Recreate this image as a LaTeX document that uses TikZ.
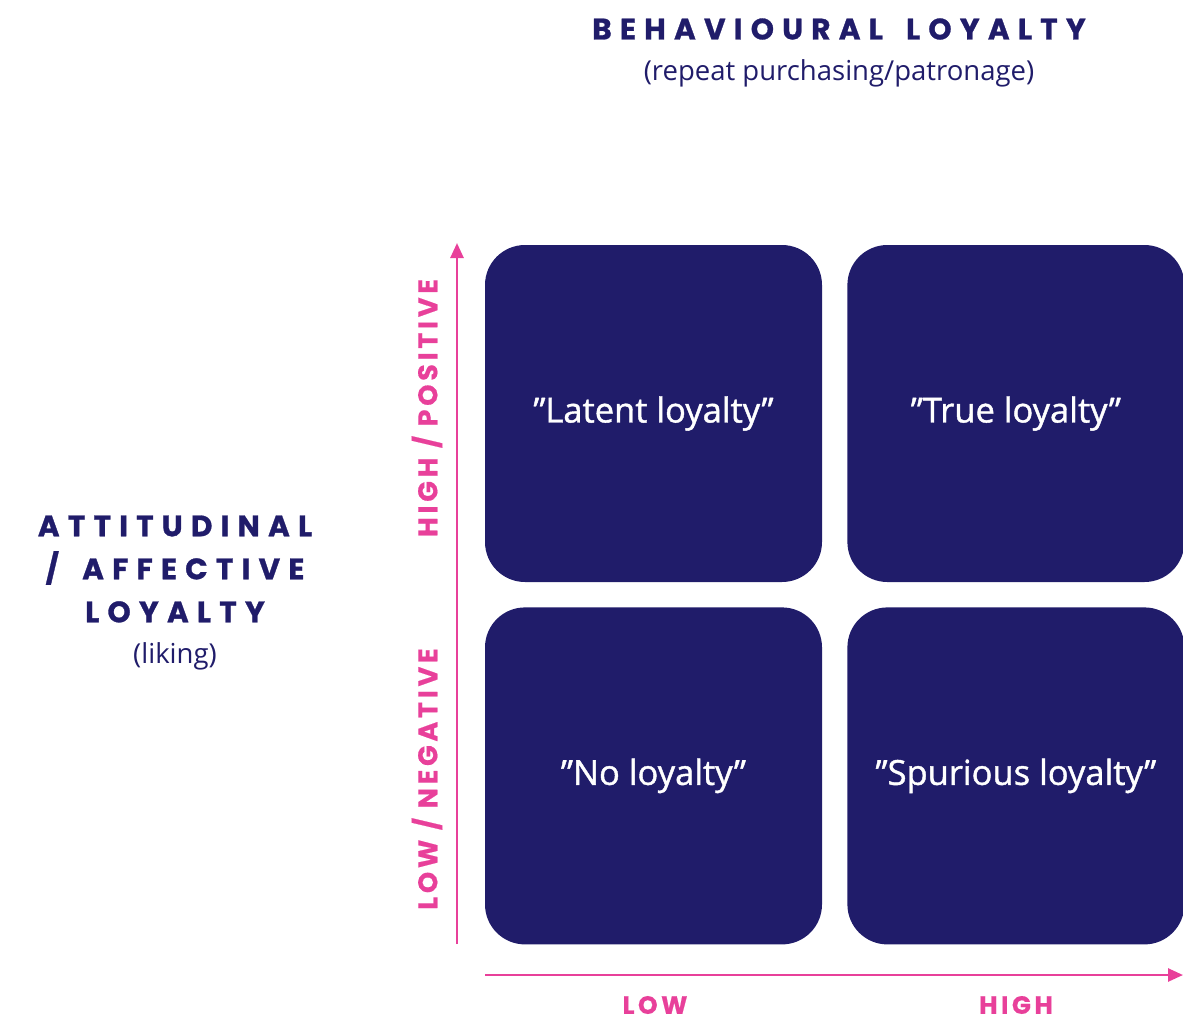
\documentclass[tikz,border=0pt]{standalone}
\usepackage{fontspec}
\usepackage{tikz}
\usetikzlibrary{positioning,arrows.meta}
\setmainfont{Open Sans}
\newfontfamily\quadfont[FakeBold=1.2]{Open Sans}
\newfontfamily\titlefont[LetterSpace=28,WordSpace=1.6,FakeBold=1]{Poppins}
\newfontfamily\axisfont[LetterSpace=14,FakeBold=0.6]{Poppins}
\newfontfamily\tickfont[LetterSpace=14,FakeBold=0.6]{Poppins}
\definecolor{navy}{RGB}{32,28,106}
\definecolor{pinkaxis}{RGB}{232,64,154}

\begin{document}
\begin{tikzpicture}[x=1pt,y=-1pt,
  quad/.style={fill=navy,rounded corners=40pt,minimum width=337pt,minimum height=337pt,
    inner sep=0pt,text=white,font=\quadfont\fontsize{34.5}{40}\selectfont},
  axis/.style={pinkaxis,line width=2.6pt,-{Triangle[width=13pt,length=15pt]}},
  head/.style={navy,font=\titlefont\bfseries\fontsize{29.5}{43}\selectfont,align=center},
  sub/.style={navy,font=\fontsize{27.5}{30}\selectfont},
  axislabel/.style={pinkaxis,rotate=90,inner sep=0pt,font=\axisfont\bfseries\fontsize{27}{28}\selectfont},
  ticklabel/.style={pinkaxis,inner sep=0pt,font=\tickfont\bfseries\fontsize{25}{28}\selectfont}]
\useasboundingbox (0,0) rectangle (1183,1021);
% Headings
\node[head] (behav) at (839,29) {BEHAVIOURAL LOYALTY};
\node[sub] (behavsub) at (839,73) {(repeat purchasing/patronage)};
\node[head] (attit) at (175,569) {ATTITUDINAL\\/ AFFECTIVE\\LOYALTY};
\node[sub] (attitsub) at (175,656) {(liking)};
% Four quadrants
\node[quad] (latent) at (653.5,413.5) {”Latent loyalty”};
\node[quad,right=25pt of latent] (true) {”True loyalty”};
\node[quad,below=25pt of latent] (none) {”No loyalty”};
\node[quad,below=25pt of true] (spur) {”Spurious loyalty”};
% Axes
\coordinate (ybot) at (457,944);
\coordinate (ytop) at (457,243);
\coordinate (xleft) at (485,975);
\coordinate (xright) at (1183,975);
\draw[axis] (ybot) -- (ytop);
\draw[axis] (xleft) -- (xright);
\node[axislabel] (ypos) at (427,408) {HIGH / POSITIVE};
\node[axislabel] (yneg) at (427,779) {LOW / NEGATIVE};
\node[ticklabel] (xlow) at (655,1005) {LOW};
\node[ticklabel] (xhigh) at (1016,1005) {HIGH};
\end{tikzpicture}
\end{document}
